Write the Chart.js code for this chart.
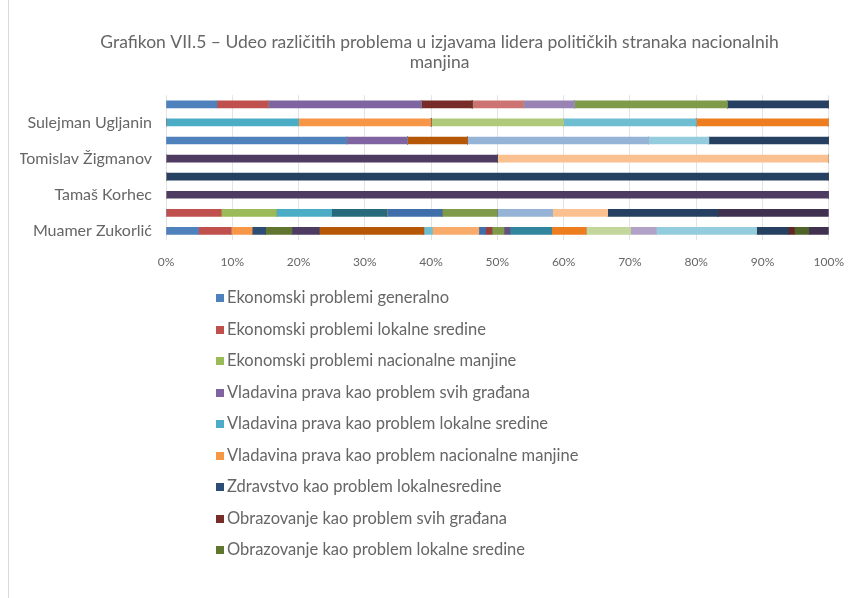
<!DOCTYPE html>
<html>
<head>
<meta charset="utf-8">
<title>Grafikon VII.5</title>
<script src="https://cdn.jsdelivr.net/npm/chart.js@4.4.0/dist/chart.umd.min.js"></script>
<style>
  html, body { margin: 0; padding: 0; background: #ffffff; }
  #wrap { width: 859px; height: 598px; }
</style>
</head>
<body>
<div id="wrap"><canvas id="chart" width="859" height="598"></canvas></div>
<script>
// Leaders, top to bottom. Excel only printed every other name.
const leaders = ['', 'Sulejman Ugljanin', '', 'Tomislav Žigmanov', '', 'Tamaš Korhec', '', 'Muamer Zukorlić'];

// x axis ticks (percent)
const xTicks = [0, 10, 20, 30, 40, 50, 60, 70, 80, 90, 100];

// Only the first nine categories are named in the (cut off) legend
const problemNames = [
    'Ekonomski problemi generalno',
    'Ekonomski problemi lokalne sredine',
    'Ekonomski problemi nacionalne manjine',
    'Vladavina prava kao problem svih građana',
    'Vladavina prava kao problem lokalne sredine',
    'Vladavina prava kao problem nacionalne manjine',
    'Zdravstvo kao problem lokalnesredine',
    'Obrazovanje kao problem svih građana',
    'Obrazovanje kao problem lokalne sredine'
];

// Excel 2010 series colours, series 1..34
const seriesColors = [
    '#4F81BD', '#C0504D', '#9BBB59', '#8064A2', '#4BACC6', '#F79646',
    '#2C4D75', '#772C2A', '#5F7530', '#4D3B62', '#276A7C', '#B65708',
    '#729ACA', '#CD7371', '#AFC97A', '#9983B5', '#6FBDD1', '#F9AB6B',
    '#3F6FAA', '#9A403E', '#7F9A48', '#665082', '#31859C', '#EE7D1F',
    '#95B3D7', '#D99694', '#C3D69B', '#B3A2C7', '#93CDDD', '#FAC090',
    '#254061', '#632523', '#4F6228', '#403151'
];

// Share (%) per row: [series number, value]
const row1 = [[1, 7.7], [2, 7.7], [4, 23.1], [8, 7.7], [14, 7.7], [16, 7.7], [21, 23.1], [31, 15.3]];
const row2 = [[5, 20], [6, 20], [15, 20], [17, 20], [24, 20]];
const row3 = [[1, 27.3], [4, 9.1], [12, 9.1], [25, 27.3], [29, 9.1], [31, 18.1]];
const row4 = [[10, 50], [30, 50]];
const row5 = [[31, 100]];
const row6 = [[10, 100]];
const row7 = [[2, 8.33], [3, 8.33], [5, 8.33], [11, 8.33], [19, 8.33], [21, 8.33], [25, 8.33], [30, 8.33], [31, 16.67], [34, 16.67]];
const row8 = [[1, 4.9], [2, 4.9], [6, 3.2], [7, 2.0], [9, 4.0], [10, 4.1], [12, 15.8], [17, 1.3], [18, 7.0],
              [19, 1.0], [20, 1.0], [21, 1.8], [22, 0.9], [23, 6.3], [24, 5.2], [27, 6.7], [28, 3.9], [29, 15.1],
              [31, 4.8], [32, 0.9], [33, 2.2], [34, 3.0]];

const rows = [row1, row2, row3, row4, row5, row6, row7, row8];

document.addEventListener('DOMContentLoaded', function() {

    const textColor = '#666666';
    const fontFamily = 'Lato, "Open Sans", sans-serif';

    // one dataset per problem category
    const datasets = seriesColors.map(function(color, i) {
        const num = i + 1;
        return {
            label: problemNames[i] || '',
            data: rows.map(function(r) {
                const hit = r.find(function(p) { return p[0] === num; });
                return hit ? hit[1] : 0;
            }),
            backgroundColor: color,
            borderWidth: 0,
            barThickness: 7
        };
    });

    // legend in a single column, like the Excel original
    const columnLegend = {
        id: 'columnLegend',
        beforeDraw(chart) {
            const ctx = chart.ctx;
            ctx.save();
            ctx.fillStyle = '#ffffff';
            ctx.fillRect(0, 0, chart.width, chart.height);
            ctx.strokeStyle = '#D9D9D9';
            ctx.lineWidth = 1;
            ctx.beginPath();
            ctx.moveTo(8.5, 0);
            ctx.lineTo(8.5, chart.height);
            ctx.stroke();
            ctx.restore();
        },
        afterDraw(chart) {
            const ctx = chart.ctx;
            ctx.save();
            ctx.font = '16.5px ' + fontFamily;
            ctx.textBaseline = 'middle';
            ctx.textAlign = 'left';
            chart.data.datasets.forEach(function(ds, i) {
                if (!ds.label) return;
                const y = 298 + i * 31.5;
                ctx.fillStyle = ds.backgroundColor;
                ctx.fillRect(216, Math.round(y - 4), 8, 8);
                ctx.fillStyle = textColor;
                ctx.fillText(ds.label, 227, y);
            });
            ctx.restore();
        }
    };

    new Chart(document.getElementById('chart').getContext('2d'), {
        type: 'bar',
        data: {
            labels: leaders,
            datasets: datasets
        },
        options: {
            indexAxis: 'y',
            responsive: false,
            animation: false,
            devicePixelRatio: 1,
            layout: {
                padding: { left: 20, right: 0, top: 0, bottom: 328 }
            },
            plugins: {
                legend: { display: false },
                tooltip: { enabled: false },
                title: {
                    display: true,
                    text: [
                        'Grafikon VII.5 – Udeo različitih problema u izjavama lidera političkih stranaka nacionalnih',
                        'manjina'
                    ],
                    color: textColor,
                    font: { family: fontFamily, size: 17.5, weight: 'normal', lineHeight: 1.15 },
                    padding: { top: 32, bottom: 23 }
                }
            },
            scales: {
                x: {
                    stacked: true,
                    min: 0,
                    max: 100,
                    afterBuildTicks: function(scale) {
                        scale.ticks = xTicks.map(function(v) { return { value: v }; });
                    },
                    afterFit: function(scale) { scale.height = 30; },
                    ticks: {
                        color: textColor,
                        padding: 15,
                        font: { family: fontFamily, size: 12 },
                        callback: function(v) { return v + '%'; }
                    },
                    grid: { color: '#E3E3E3', drawTicks: false },
                    border: { display: false }
                },
                y: {
                    stacked: true,
                    afterFit: function(scale) { scale.width = 146; },
                    ticks: {
                        color: textColor,
                        padding: 14,
                        autoSkip: false,
                        font: { family: fontFamily, size: 16 }
                    },
                    grid: { display: false, drawTicks: false },
                    border: { display: false }
                },
                // empty strip on the right so the plot ends at 100% where Excel's did
                yRight: {
                    type: 'category',
                    position: 'right',
                    afterFit: function(scale) { scale.width = 21; },
                    ticks: { display: false },
                    grid: { display: false, drawTicks: false },
                    border: { display: false }
                }
            }
        },
        plugins: [columnLegend]
    });
});
</script>
</body>
</html>
